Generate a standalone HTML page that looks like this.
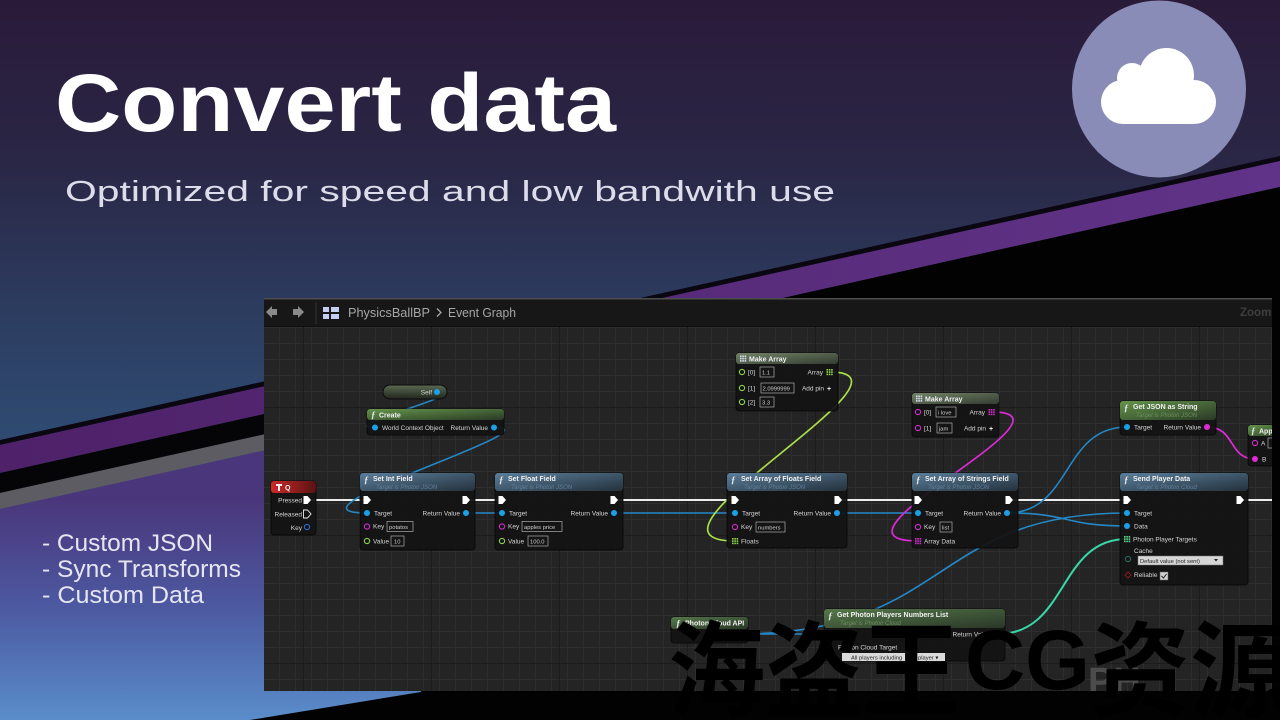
<!DOCTYPE html>
<html><head><meta charset="utf-8">
<style>
html,body{margin:0;padding:0;width:1280px;height:720px;overflow:hidden;background:#2a1b3b}
svg{display:block}
.t{font-family:"Liberation Sans",sans-serif;font-size:6.5px;fill:#d6d6d6}
.h{font-family:"Liberation Sans",sans-serif;font-size:7px;font-weight:bold;fill:#f2f2f2}
.s{font-family:"Liberation Sans",sans-serif;font-size:6px;font-style:italic;fill:#63809a}
.sg{font-family:"Liberation Sans",sans-serif;font-size:6px;font-style:italic;fill:#6c9160}
.f{font-family:"Liberation Serif",serif;font-style:italic;font-weight:bold;font-size:9px;fill:#e8e8e8}
.bx{fill:none;stroke:#ababab;stroke-width:.7}
.bt{font-family:"Liberation Sans",sans-serif;font-size:5.8px;fill:#cfcfcf}
.nb{fill:#141414;fill-opacity:.95;stroke:#060606;stroke-width:.8}
.pb{fill:#1d9fe8}
.pm{fill:none;stroke:#d22ccc;stroke-width:1.1}
.pg{fill:none;stroke:#8fd24a;stroke-width:1.1}
.wb{fill:none;stroke:#2488c8;stroke-width:1.6}
.we{fill:none;stroke:#ececec;stroke-width:2}
</style></head><body>
<svg width="1280" height="720" viewBox="0 0 1280 720" xmlns="http://www.w3.org/2000/svg">
<defs>
 <linearGradient id="bgTop" x1="0" y1="0" x2="0" y2="720" gradientUnits="userSpaceOnUse">
  <stop offset="0" stop-color="#2a1a3a"/>
  <stop offset="0.22" stop-color="#2a2645"/>
  <stop offset="0.42" stop-color="#2c3b5e"/>
  <stop offset="0.62" stop-color="#2f4c74"/>
  <stop offset="1" stop-color="#31557f"/>
 </linearGradient>
 <linearGradient id="bgLow" x1="0" y1="500" x2="0" y2="720" gradientUnits="userSpaceOnUse">
  <stop offset="0" stop-color="#4a367b"/>
  <stop offset="0.5" stop-color="#4c5aa2"/>
  <stop offset="1" stop-color="#5a8dca"/>
 </linearGradient>
 <linearGradient id="purp" x1="0" y1="0" x2="1280" y2="0" gradientUnits="userSpaceOnUse">
  <stop offset="0" stop-color="#4e2169"/><stop offset="1" stop-color="#613388"/>
 </linearGradient>
 <linearGradient id="gB" x1="0" y1="0" x2="1" y2="1">
  <stop offset="0" stop-color="#5b7e9b"/><stop offset="1" stop-color="#24313c"/>
 </linearGradient>
 <linearGradient id="gG" x1="0" y1="0" x2="1" y2="1">
  <stop offset="0" stop-color="#64944b"/><stop offset="1" stop-color="#2a3a25"/>
 </linearGradient>
 <linearGradient id="gGd" x1="0" y1="0" x2="1" y2="1">
  <stop offset="0" stop-color="#55784a"/><stop offset="1" stop-color="#2a3727"/>
 </linearGradient>
 <linearGradient id="gM" x1="0" y1="0" x2="1" y2="1">
  <stop offset="0" stop-color="#718368"/><stop offset="1" stop-color="#343c30"/>
 </linearGradient>
 <linearGradient id="gR" x1="0" y1="0" x2="1" y2="0">
  <stop offset="0" stop-color="#cc2a2a"/><stop offset="1" stop-color="#5a1212"/>
 </linearGradient>
 <linearGradient id="gS" x1="0" y1="0" x2="0" y2="1">
  <stop offset="0" stop-color="#5a6a52"/><stop offset="1" stop-color="#20261d"/>
 </linearGradient>
 <pattern id="minor" width="16" height="16" patternUnits="userSpaceOnUse" x="7" y="7">
  <rect width="16" height="16" fill="#242424"/>
  <path d="M0 0.5H16M0.5 0V16" stroke="#2e2e2e" stroke-width="1"/>
 </pattern>
 <pattern id="major" width="128" height="128" patternUnits="userSpaceOnUse" x="47" y="23">
  <path d="M0 0.5H128M0.5 0V128" stroke="#1c1c1c" stroke-width="1"/>
 </pattern>
 <path id="ex" d="M-3.5,-4 H0.5 L4,0 L0.5,4 H-3.5 Z"/>
 <g id="gr">
  <rect x="0" y="0" width="1.6" height="1.6"/><rect x="2.3" y="0" width="1.6" height="1.6"/><rect x="4.6" y="0" width="1.6" height="1.6"/>
  <rect x="0" y="2.3" width="1.6" height="1.6"/><rect x="2.3" y="2.3" width="1.6" height="1.6"/><rect x="4.6" y="2.3" width="1.6" height="1.6"/>
  <rect x="0" y="4.6" width="1.6" height="1.6"/><rect x="2.3" y="4.6" width="1.6" height="1.6"/><rect x="4.6" y="4.6" width="1.6" height="1.6"/>
 </g>
 <clipPath id="pc"><rect x="264" y="298" width="1008" height="393"/></clipPath>
</defs>

<!-- background -->
<rect width="1280" height="720" fill="url(#bgTop)"/>
<polygon points="0,509 1280,225 1280,720 0,720" fill="url(#bgLow)"/>
<polygon points="0,440 1280,156 1280,161 0,445" fill="#0a0710"/>
<polygon points="0,445 1280,161 1280,187 0,473" fill="url(#purp)"/>
<polygon points="0,473 1280,187 1280,209 0,493" fill="#050508"/>
<polygon points="0,493 1280,209 1280,225 0,509" fill="#5c5c62"/>
<polygon points="421,298 783,298 1280,187 1280,720 250,720 421,692" fill="#020203"/>

<!-- cloud badge -->
<ellipse cx="1159" cy="89" rx="87" ry="88.5" fill="#8a8cb8"/>
<g fill="#ffffff">
 <circle cx="1166.5" cy="75.5" r="27.5"/>
 <circle cx="1132" cy="78" r="15"/>
 <rect x="1101" y="80" width="115" height="44" rx="22"/>
</g>

<!-- titles -->
<text x="55" y="131" font-family="Liberation Sans, sans-serif" font-weight="bold" font-size="82" fill="#ffffff" textLength="561" lengthAdjust="spacingAndGlyphs">Convert data</text>
<text x="65" y="201" font-family="Liberation Sans, sans-serif" font-size="29" fill="#dcdcea" textLength="770" lengthAdjust="spacingAndGlyphs">Optimized for speed and low bandwith use</text>
<g font-family="Liberation Sans, sans-serif" font-size="24" fill="#e6e6f2">
 <text x="42" y="551" textLength="171" lengthAdjust="spacingAndGlyphs">- Custom JSON</text>
 <text x="42" y="577" textLength="199" lengthAdjust="spacingAndGlyphs">- Sync Transforms</text>
 <text x="42" y="603" textLength="162" lengthAdjust="spacingAndGlyphs">- Custom Data</text>
</g>

<!-- blueprint panel -->
<g clip-path="url(#pc)">
 <rect x="264" y="298" width="1008" height="393" fill="url(#minor)"/>
 <rect x="264" y="327" width="1008" height="364" fill="url(#major)"/>
 <rect x="264" y="298" width="1008" height="29" fill="#171717"/>
 <rect x="264" y="298" width="1008" height="1.5" fill="#4d4d4d"/>
 <rect x="264" y="326" width="1008" height="1" fill="#0e0e0e"/>
 <polygon points="266,312 272,306 272,309 277,309 277,315 272,315 272,318" fill="#8a8a8a"/>
 <polygon points="304,312 298,306 298,309 293,309 293,315 298,315 298,318" fill="#8a8a8a"/>
 <rect x="315.5" y="302" width="1" height="22" fill="#333"/>
 <g fill="#c5cdf0">
  <rect x="323" y="307" width="6" height="5"/><rect x="331" y="307" width="8" height="5"/>
  <rect x="323" y="314" width="6" height="5"/><rect x="331" y="314" width="8" height="5"/>
 </g>
 <text x="348" y="317" font-family="Liberation Sans, sans-serif" font-size="12.5" fill="#a6a6a6" textLength="82" lengthAdjust="spacingAndGlyphs">PhysicsBallBP</text>
 <polyline points="437,308.5 441,312.5 437,316.5" fill="none" stroke="#a6a6a6" stroke-width="1.3"/>
 <text x="448" y="317" font-family="Liberation Sans, sans-serif" font-size="12.5" fill="#a6a6a6" textLength="68" lengthAdjust="spacingAndGlyphs">Event Graph</text>
 <text x="1240" y="316" font-family="Liberation Sans, sans-serif" font-size="11.5" font-weight="bold" fill="#3e3e3e">Zoom</text>

 <!-- wires -->
 <path class="we" d="M310,500 L364,500 M469,500 L499,500 M617,500 L732,500 M841,500 L915,500 M1012,500 L1124,500 M1243,500 L1272,500"/>
 <path class="wb" d="M437,392 C478,392 332,427.5 375,427.5"/>
 <path class="wb" d="M494,427.5 C562,427.5 268,513 367,513"/>
 <path class="wb" d="M466,513 L502,513 M614,513 L735,513 M837,513 L918,513"/>
 <path class="wb" d="M1007,513 C1072,513 1062,427 1127,427"/>
 <path class="wb" d="M1007,513 C1072,513 1062,526 1127,526"/>
 <path class="wb" d="M738,634 C950,634 930,513 1127,513"/>
 <path class="wb" d="M738,634 C785,634 790,634 831,634"/>
 <path fill="none" stroke="#a8e04a" stroke-width="1.7" d="M830,372 C935,372 615,541 735,541"/>
 <path fill="none" stroke="#e02ad8" stroke-width="1.7" d="M992,412 C1090,412 808,541 918,541"/>
 <path fill="none" stroke="#e02ad8" stroke-width="1.7" d="M1207,427 C1236,427 1228,459 1255,459"/>
 <path fill="none" stroke="#38d8a8" stroke-width="2" d="M998,634 C1068,634 1058,539 1127,539"/>

 <!-- Q node -->
 <rect x="271" y="481" width="45" height="54" rx="3" class="nb"/>
 <rect x="271" y="481" width="45" height="12" rx="3" fill="url(#gR)"/>
 <path d="M276,484 h6 v2 h-2 v5 h-2 v-5 h-2z" fill="#eee"/>
 <text x="285" y="490" class="h">Q</text>
 <text x="302" y="502.5" class="t" text-anchor="end">Pressed</text>
 <use href="#ex" x="307" y="500" fill="#fff"/>
 <text x="302" y="516.5" class="t" text-anchor="end">Released</text>
 <use href="#ex" x="307" y="514" fill="none" stroke="#eee" stroke-width=".9"/>
 <text x="302" y="530" class="t" text-anchor="end">Key</text>
 <circle cx="307" cy="527" r="2.6" fill="none" stroke="#2a6ad8" stroke-width="1.1"/>

 <!-- Self -->
 <rect x="383" y="385" width="64" height="14" rx="7" fill="url(#gS)" stroke="#0b0b0b"/>
 <text x="432" y="394.5" class="t" text-anchor="end">Self</text>
 <circle cx="437" cy="392" r="3" class="pb"/>

 <!-- Create -->
 <rect x="367" y="409" width="137" height="26" rx="3" class="nb"/>
 <rect x="367" y="409" width="137" height="11" rx="3" fill="url(#gG)"/>
 <text x="371" y="418" class="f">ƒ</text>
 <text x="379" y="417.5" class="h">Create</text>
 <circle cx="375" cy="427.5" r="3" class="pb"/>
 <text x="382" y="430" class="t">World Context Object</text>
 <text x="488" y="430" class="t" text-anchor="end">Return Value</text>
 <circle cx="494" cy="427.5" r="3" class="pb"/>

 <!-- Set Int Field -->
 <rect x="360" y="473" width="115" height="77" rx="3" class="nb"/>
 <rect x="360" y="473" width="115" height="18" rx="3" fill="url(#gB)"/>
 <text x="364" y="483" class="f">ƒ</text>
 <text x="373" y="481" class="h">Set Int Field</text>
 <text x="376" y="489" class="s">Target is Photon JSON</text>
 <use href="#ex" x="367" y="500" fill="#fff"/>
 <use href="#ex" x="466" y="500" fill="#fff"/>
 <circle cx="367" cy="513" r="3" class="pb"/>
 <text x="374" y="515.5" class="t">Target</text>
 <text x="460" y="515.5" class="t" text-anchor="end">Return Value</text>
 <circle cx="466" cy="513" r="3" class="pb"/>
 <circle cx="367" cy="526.5" r="2.6" class="pm"/>
 <text x="373" y="528.5" class="t">Key</text>
 <rect x="387" y="521.5" width="26" height="10" class="bx"/>
 <text x="389" y="529" class="bt">potatos</text>
 <circle cx="367" cy="541" r="2.6" class="pg"/>
 <text x="373" y="543.5" class="t">Value</text>
 <rect x="391" y="536" width="13" height="10" class="bx"/>
 <text x="394" y="543.5" class="bt">10</text>

 <!-- Set Float Field -->
 <rect x="495" y="473" width="128" height="77" rx="3" class="nb"/>
 <rect x="495" y="473" width="128" height="18" rx="3" fill="url(#gB)"/>
 <text x="499" y="483" class="f">ƒ</text>
 <text x="508" y="481" class="h">Set Float Field</text>
 <text x="511" y="489" class="s">Target is Photon JSON</text>
 <use href="#ex" x="502" y="500" fill="#fff"/>
 <use href="#ex" x="614" y="500" fill="#fff"/>
 <circle cx="502" cy="513" r="3" class="pb"/>
 <text x="509" y="515.5" class="t">Target</text>
 <text x="608" y="515.5" class="t" text-anchor="end">Return Value</text>
 <circle cx="614" cy="513" r="3" class="pb"/>
 <circle cx="502" cy="526.5" r="2.6" class="pm"/>
 <text x="508" y="528.5" class="t">Key</text>
 <rect x="522" y="521.5" width="40" height="10" class="bx"/>
 <text x="524" y="529" class="bt">apples price</text>
 <circle cx="502" cy="541" r="2.6" class="pg"/>
 <text x="508" y="543.5" class="t">Value</text>
 <rect x="528" y="536" width="20" height="10" class="bx"/>
 <text x="530" y="543.5" class="bt">100.0</text>

 <!-- Make Array 1 -->
 <rect x="736" y="353" width="102" height="58" rx="3" class="nb"/>
 <rect x="736" y="353" width="102" height="11" rx="3" fill="url(#gM)"/>
 <use href="#gr" x="740" y="355.5" fill="#dde"/>
 <text x="749" y="361.5" class="h">Make Array</text>
 <circle cx="742" cy="372" r="2.6" class="pg"/>
 <text x="748" y="374.5" class="t">[0]</text>
 <rect x="760" y="367" width="14" height="10" class="bx"/>
 <text x="762" y="374.5" class="bt">1.1</text>
 <circle cx="742" cy="388" r="2.6" class="pg"/>
 <text x="748" y="390.5" class="t">[1]</text>
 <rect x="761" y="383" width="33" height="10" class="bx"/>
 <text x="762.5" y="390.5" class="bt">2.0999999</text>
 <text x="824" y="390.5" class="t" text-anchor="end">Add pin</text>
 <text x="827" y="391" class="h" font-size="9">+</text>
 <circle cx="742" cy="402" r="2.6" class="pg"/>
 <text x="748" y="404.5" class="t">[2]</text>
 <rect x="760" y="397" width="14" height="10" class="bx"/>
 <text x="762" y="404.5" class="bt">3.3</text>
 <text x="823" y="374.5" class="t" text-anchor="end">Array</text>
 <use href="#gr" x="826.5" y="369" fill="#8fd24a"/>

 <!-- Set Array of Floats Field -->
 <rect x="727" y="473" width="120" height="75" rx="3" class="nb"/>
 <rect x="727" y="473" width="120" height="18" rx="3" fill="url(#gB)"/>
 <text x="731" y="483" class="f">ƒ</text>
 <text x="741" y="481" class="h">Set Array of Floats Field</text>
 <text x="744" y="489" class="s">Target is Photon JSON</text>
 <use href="#ex" x="735" y="500" fill="#fff"/>
 <use href="#ex" x="838" y="500" fill="#fff"/>
 <circle cx="735" cy="513" r="3" class="pb"/>
 <text x="742" y="515.5" class="t">Target</text>
 <text x="831" y="515.5" class="t" text-anchor="end">Return Value</text>
 <circle cx="837" cy="513" r="3" class="pb"/>
 <circle cx="735" cy="527" r="2.6" class="pm"/>
 <text x="741" y="529" class="t">Key</text>
 <rect x="756" y="522" width="29" height="10" class="bx"/>
 <text x="758" y="529.5" class="bt">numbers</text>
 <use href="#gr" x="732" y="538" fill="#8fd24a"/>
 <text x="741" y="543.5" class="t">Floats</text>

 <!-- Make Array 2 -->
 <rect x="912" y="393" width="87" height="44" rx="3" class="nb"/>
 <rect x="912" y="393" width="87" height="11" rx="3" fill="url(#gM)"/>
 <use href="#gr" x="916" y="395.5" fill="#dde"/>
 <text x="925" y="401.5" class="h">Make Array</text>
 <circle cx="918" cy="412" r="2.6" class="pm"/>
 <text x="924" y="414.5" class="t">[0]</text>
 <rect x="936" y="407" width="20" height="10" class="bx"/>
 <text x="938" y="414.5" class="bt">i love</text>
 <circle cx="918" cy="428" r="2.6" class="pm"/>
 <text x="924" y="430.5" class="t">[1]</text>
 <rect x="937" y="423" width="15" height="10" class="bx"/>
 <text x="939" y="430.5" class="bt">jam</text>
 <text x="985" y="414.5" class="t" text-anchor="end">Array</text>
 <use href="#gr" x="988.5" y="409" fill="#d22ccc"/>
 <text x="986" y="430.5" class="t" text-anchor="end">Add pin</text>
 <text x="989" y="431" class="h" font-size="9">+</text>

 <!-- Set Array of Strings Field -->
 <rect x="912" y="473" width="106" height="75" rx="3" class="nb"/>
 <rect x="912" y="473" width="106" height="18" rx="3" fill="url(#gB)"/>
 <text x="916" y="483" class="f">ƒ</text>
 <text x="925" y="481" class="h">Set Array of Strings Field</text>
 <text x="928" y="489" class="s">Target is Photon JSON</text>
 <use href="#ex" x="918" y="500" fill="#fff"/>
 <use href="#ex" x="1009" y="500" fill="#fff"/>
 <circle cx="918" cy="513" r="3" class="pb"/>
 <text x="925" y="515.5" class="t">Target</text>
 <text x="1001" y="515.5" class="t" text-anchor="end">Return Value</text>
 <circle cx="1007" cy="513" r="3" class="pb"/>
 <circle cx="918" cy="527" r="2.6" class="pm"/>
 <text x="924" y="529" class="t">Key</text>
 <rect x="940" y="522" width="12" height="10" class="bx"/>
 <text x="942" y="529.5" class="bt">list</text>
 <use href="#gr" x="915" y="538" fill="#d22ccc"/>
 <text x="924" y="543.5" class="t">Array Data</text>

 <!-- Get JSON as String -->
 <rect x="1120" y="401" width="96" height="34" rx="3" class="nb"/>
 <rect x="1120" y="401" width="96" height="19" rx="3" fill="url(#gG)"/>
 <text x="1124" y="411" class="f">ƒ</text>
 <text x="1133" y="409" class="h">Get JSON as String</text>
 <text x="1136" y="417" class="sg">Target is Photon JSON</text>
 <circle cx="1127" cy="427" r="3" class="pb"/>
 <text x="1134" y="429.5" class="t">Target</text>
 <text x="1201" y="429.5" class="t" text-anchor="end">Return Value</text>
 <circle cx="1207" cy="427" r="3" fill="#e02ad8"/>

 <!-- Append -->
 <rect x="1248" y="425" width="40" height="41" rx="3" class="nb"/>
 <rect x="1248" y="425" width="40" height="11" rx="3" fill="url(#gG)"/>
 <text x="1251" y="434" class="f">ƒ</text>
 <text x="1259" y="433.5" class="h">Append</text>
 <circle cx="1255" cy="443" r="2.6" class="pm"/>
 <text x="1261" y="445.5" class="t">A</text>
 <rect x="1268" y="438" width="10" height="10" class="bx"/>
 <circle cx="1255" cy="459" r="3" fill="#e02ad8"/>
 <text x="1262" y="461.5" class="t">B</text>

 <!-- Send Player Data -->
 <rect x="1120" y="473" width="128" height="112" rx="3" class="nb"/>
 <rect x="1120" y="473" width="128" height="18" rx="3" fill="url(#gB)"/>
 <text x="1124" y="483" class="f">ƒ</text>
 <text x="1133" y="481" class="h">Send Player Data</text>
 <text x="1136" y="489" class="s">Target is Photon Cloud</text>
 <use href="#ex" x="1127" y="500" fill="#fff"/>
 <use href="#ex" x="1240" y="500" fill="#fff"/>
 <circle cx="1127" cy="513" r="3" class="pb"/>
 <text x="1134" y="515.5" class="t">Target</text>
 <circle cx="1127" cy="526" r="3" class="pb"/>
 <text x="1134" y="528.5" class="t">Data</text>
 <use href="#gr" x="1124" y="536" fill="#5ad88a"/>
 <text x="1133" y="541.5" class="t">Photon Player Targets</text>
 <text x="1134" y="553" class="t">Cache</text>
 <circle cx="1128" cy="559" r="2.6" fill="none" stroke="#2a6a60" stroke-width="1.1"/>
 <rect x="1138" y="556" width="85" height="9" fill="#d6d6d6" stroke="#777" stroke-width=".5"/>
 <text x="1140" y="562.8" class="bt" style="fill:#222">Default value (not sent)</text>
 <path d="M1214,559 h4 l-2,2.5z" fill="#222"/>
 <path d="M1128,572 l3,3 l-3,3 l-3,-3z" fill="none" stroke="#8a1a1a" stroke-width="1"/>
 <text x="1134" y="577" class="t">Reliable</text>
 <rect x="1160" y="572" width="8" height="8" fill="#cfcfcf" stroke="#666" stroke-width=".5"/>
 <path d="M1161.5,576 l2,2 l3,-4" fill="none" stroke="#222" stroke-width="1"/>

 <!-- Photon Cloud API -->
 <rect x="671" y="617" width="77" height="26" rx="3" class="nb"/>
 <rect x="671" y="617" width="77" height="12" rx="3" fill="url(#gGd)"/>
 <text x="676" y="626.5" class="f">ƒ</text>
 <text x="685" y="625.5" class="h">Photon Cloud API</text>
 <text x="728" y="636.5" class="t" text-anchor="end">Value</text>
 <circle cx="738" cy="634" r="3" class="pb"/>

 <!-- Get Photon Players Numbers List -->
 <rect x="824" y="609" width="181" height="52" rx="3" class="nb"/>
 <rect x="824" y="609" width="181" height="19" rx="3" fill="url(#gGd)"/>
 <text x="828" y="619" class="f">ƒ</text>
 <text x="837" y="617" class="h">Get Photon Players Numbers List</text>
 <text x="840" y="625" class="sg">Target is Photon Cloud</text>
 <circle cx="831" cy="634" r="3" class="pb"/>
 <text x="838" y="636.5" class="t">Target</text>
 <text x="990" y="636.5" class="t" text-anchor="end">Return Value</text>
 <use href="#gr" x="994" y="631" fill="#5ad88a"/>
 <text x="838" y="649.5" class="t">Photon Cloud Target</text>
 <circle cx="831" cy="654" r="2.6" fill="none" stroke="#2a6a60" stroke-width="1.1"/>
 <rect x="842" y="653" width="66" height="8" fill="#dadada"/>
 <text x="851" y="659.3" class="bt" style="fill:#222">All players including</text>
 <rect x="916" y="653" width="29" height="8" fill="#dadada"/>
 <text x="918" y="659.3" class="bt" style="fill:#222">player ▾</text>

 <text x="1088" y="694" font-family="Liberation Sans, sans-serif" font-weight="bold" font-size="38" fill="#4c4c4c">PH</text>
</g>

<!-- watermark -->
<g fill="#000000">
 <text x="668" y="708" font-family="Liberation Sans, 'Noto Sans CJK SC', 'WenQuanYi Zen Hei', sans-serif" font-weight="bold" font-size="104" textLength="292" lengthAdjust="spacingAndGlyphs">海盗王</text>
 <text x="965" y="689" font-family="Liberation Sans, sans-serif" font-weight="bold" font-size="84" textLength="125" lengthAdjust="spacingAndGlyphs">CG</text>
 <text x="1090" y="708" font-family="Liberation Sans, 'Noto Sans CJK SC', 'WenQuanYi Zen Hei', sans-serif" font-weight="bold" font-size="104" textLength="200" lengthAdjust="spacingAndGlyphs">资源</text>
</g>
</svg>
</body></html>
